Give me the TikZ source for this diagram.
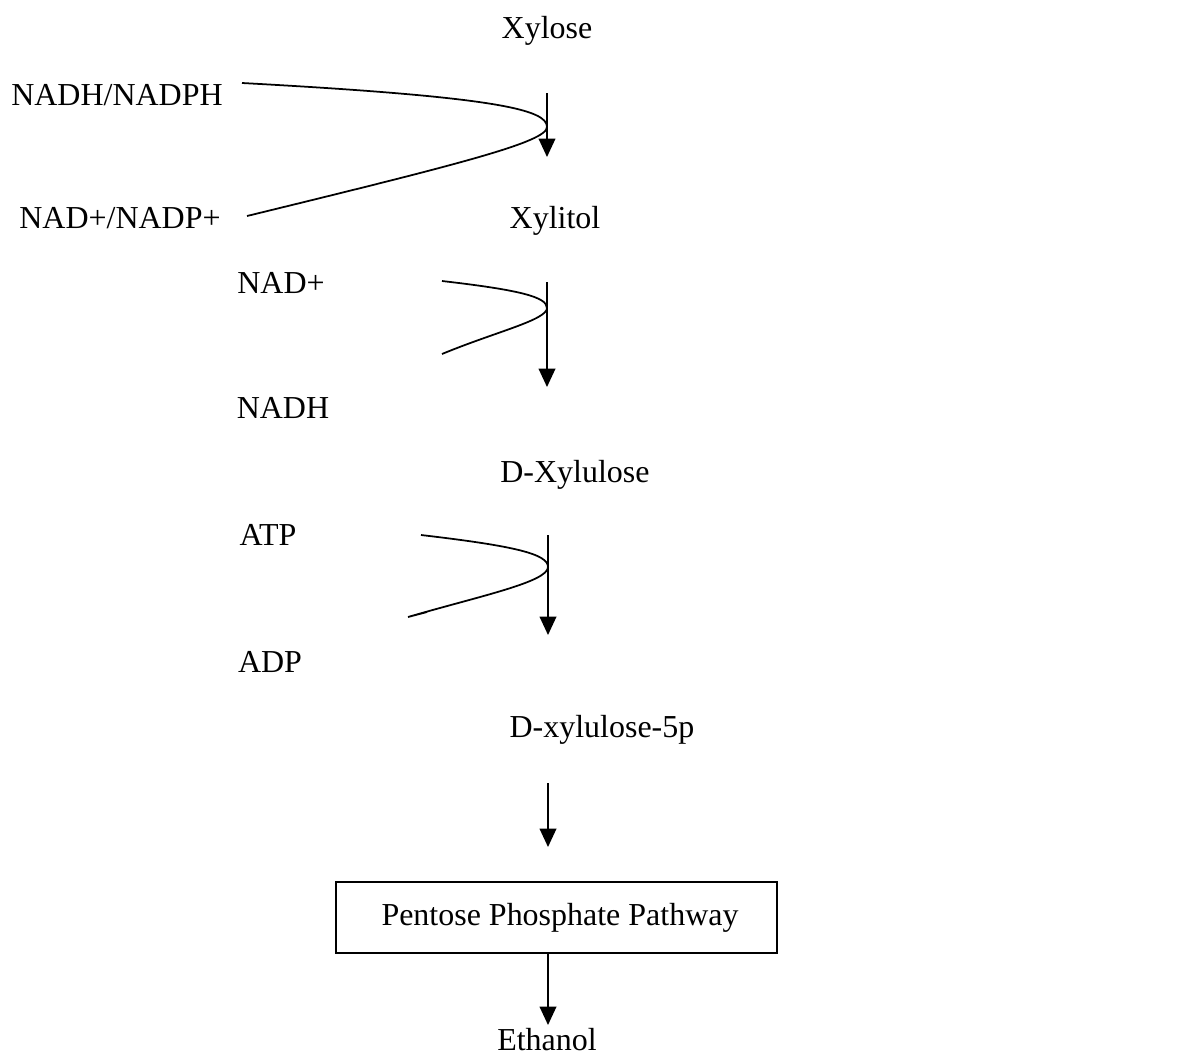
\documentclass[tikz,border=0pt]{standalone}
\usepackage{fontspec}
\setmainfont{Liberation Serif}
\usetikzlibrary{arrows.meta, positioning}
\tikzset{>={Triangle[length=10.5pt,width=9.5pt]}}
\tikzset{
  label/.style={anchor=base, inner sep=0pt, font=\fontsize{18.2}{22}\selectfont},
  flow/.style={->, line width=1pt},
  cofactor/.style={line width=1pt},
  pathbox/.style={draw, line width=1pt, minimum width=8.82cm, minimum height=1.42cm,
    inner sep=0pt, font=\fontsize{18.2}{22}\selectfont}
}
\begin{document}
\begin{tikzpicture}[x=0.02cm, y=-0.02cm]

\useasboundingbox (0,0) rectangle (1203,1059);

% Metabolites
\node[label] (xylose) at (547,38) {Xylose};
\node[label] (xylitol) at (555,228) {Xylitol};
\node[label] (dxylulose) at (575,482) {D-Xylulose};
\node[label] (dxylulosep) at (602,737) {D-xylulose-5p};
\node[pathbox] (ppp) at (556.5,917.5) {\hspace{4pt}Pentose Phosphate Pathway};
\node[label] (ethanol) at (547,1050) {Ethanol};

% Cofactors
\node[label] (nadph) at (117,105) {NADH/NADPH};
\node[label] (nadp) at (120,228) {NAD+/NADP+};
\node[label] (nadplus) at (281,293) {NAD+};
\node[label] (nadh) at (283,418) {NADH};
\node[label] (atp) at (268,545) {ATP};
\node[label] (adp) at (270,672) {ADP};

% Reaction arrows
\coordinate (a1) at (547,93);  \coordinate (b1) at (547,157);
\coordinate (a2) at (547,282); \coordinate (b2) at (547,387);
\coordinate (a3) at (548,535); \coordinate (b3) at (548,635);
\coordinate (a4) at (548,783); \coordinate (b4) at (548,847);
\coordinate (b5) at (548,1025);
\draw[flow] (a1) -- (b1);
\draw[flow] (a2) -- (b2);
\draw[flow] (a3) -- (b3);
\draw[flow] (a4) -- (b4);
\draw[flow] (ppp.south -| b5) -- (b5);

% Cofactor curves
\coordinate (s1) at (242,83);  \coordinate (v1) at (547,127); \coordinate (e1) at (247,216);
\draw[cofactor] (s1) .. controls (500,97) and (547,110) .. (v1)
  .. controls (547,142) and (460,164) .. (e1);

\coordinate (s2) at (442,281); \coordinate (v2) at (547,308); \coordinate (e2) at (442,354);
\draw[cofactor] (s2) .. controls (520,290) and (547,297) .. (v2)
  .. controls (547,320) and (495,332) .. (e2);

\coordinate (s3) at (421,535); \coordinate (v3) at (548,567); \coordinate (e3) at (408,617);
\draw[cofactor] (s3) .. controls (515,546) and (548,554) .. (v3)
  .. controls (548,582) and (480,596) .. (e3) -- (427,612);

\end{tikzpicture}
\end{document}
